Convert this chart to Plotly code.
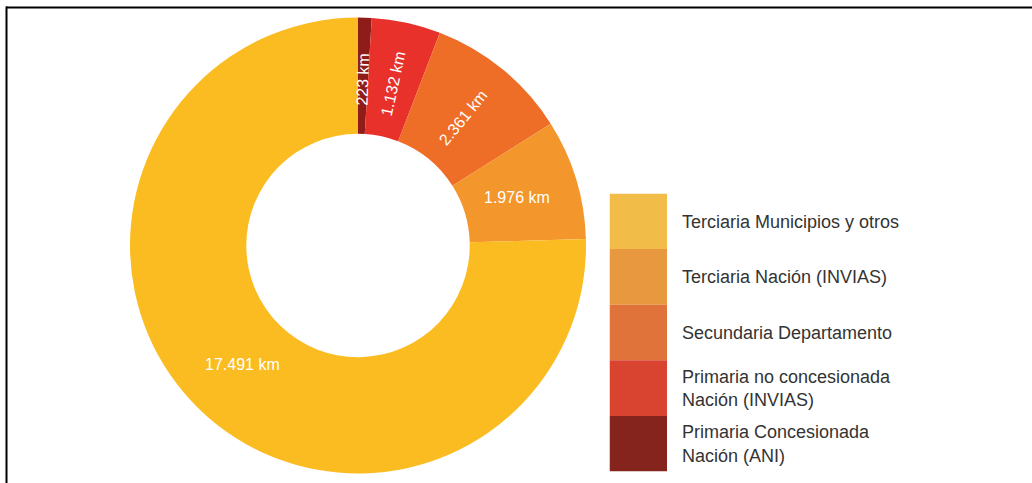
"""
Red vial por tipo de vía (km) - donut con leyenda en bloques.
"""

import math

import plotly.graph_objects as go

# data
categories = [
    "Primaria Concesionada<br>Nación (ANI)",
    "Primaria no concesionada<br>Nación (INVIAS)",
    "Secundaria Departamento",
    "Terciaria Nación (INVIAS)",
    "Terciaria Municipios y otros",
]
km = [223, 1132, 2361, 1976, 17491]
pie_colors = ["#8e1d1a", "#e8312a", "#ee6e27", "#f3962b", "#fbbc21"]

legend_order = [4, 3, 2, 1, 0]  # top to bottom
legend_colors = ["#85241c", "#d84430", "#e0733a", "#e89940", "#f2bc48"]

labels_km = [f"{v:,}".replace(",", ".") + " km" for v in km]

W, H = 1032, 483
FONT = "Liberation Sans, Arial, Helvetica, sans-serif"

fig = go.Figure()

# donut
cx, cy, r = 358, 245.5, 228
hole = 0.49
fig.add_trace(
    go.Pie(
        labels=categories,
        values=km,
        text=labels_km,
        textinfo="none",
        marker=dict(colors=pie_colors, line=dict(width=0)),
        hole=hole,
        sort=False,
        direction="clockwise",
        rotation=0,
        hoverinfo="label+text",
        domain=dict(
            x=[(cx - r) / W, (cx + r) / W],
            y=[(H - cy - r) / H, (H - cy + r) / H],
        ),
    )
)

# slice labels, placed at the middle of each ring segment
total = sum(km)
r_mid = r * (1 + hole) / 2 - 4
annotations = []
cum = 0
for v, txt in zip(km, labels_km):
    theta = (cum + v / 2) / total * 360
    cum += v
    rad = math.radians(theta)
    px = cx + r_mid * math.sin(rad)
    py = cy - r_mid * math.cos(rad)
    # radial text near the top, horizontal elsewhere
    angle = theta - 90 if theta < 60 else 0
    annotations.append(
        dict(
            x=px / W,
            y=(H - py) / H,
            xref="paper",
            yref="paper",
            text=txt,
            showarrow=False,
            textangle=angle,
            xanchor="center",
            yanchor="middle",
            font=dict(color="white", size=16, family=FONT),
        )
    )

# legend drawn as stacked colour blocks
fig.add_trace(
    go.Bar(
        y=[categories[i] for i in legend_order],
        x=[1] * len(legend_order),
        orientation="h",
        width=1,
        marker=dict(color=[legend_colors[i] for i in legend_order], line=dict(width=0)),
        hoverinfo="y",
        xaxis="x",
        yaxis="y",
    )
)

fig.update_layout(
    width=W,
    height=H,
    margin=dict(l=0, r=0, t=0, b=0),
    paper_bgcolor="white",
    plot_bgcolor="white",
    showlegend=False,
    font=dict(family=FONT, color="#333333"),
    annotations=annotations,
    xaxis=dict(
        domain=[609.5 / W, 667 / W],
        range=[0, 1],
        visible=False,
        fixedrange=True,
    ),
    yaxis=dict(
        domain=[(H - 471.5) / H, (H - 193.5) / H],
        range=[len(categories) - 0.5, -0.5],
        side="right",
        anchor="x",
        showgrid=False,
        zeroline=False,
        showline=False,
        ticks="",
        ticklabelstandoff=14,
        tickfont=dict(size=18, color="#333333", family=FONT),
        fixedrange=True,
    ),
    shapes=[
        dict(type="line", xref="paper", yref="paper", x0=6 / W, x1=1,
             y0=(H - 7.5) / H, y1=(H - 7.5) / H, line=dict(color="black", width=2)),
        dict(type="line", xref="paper", yref="paper", x0=6.5 / W, x1=6.5 / W,
             y0=0, y1=(H - 6.5) / H, line=dict(color="black", width=2)),
    ],
)

fig.write_html(
    "out.html",
    config={"displayModeBar": False},
    post_script="document.body.style.margin='0';",
)
